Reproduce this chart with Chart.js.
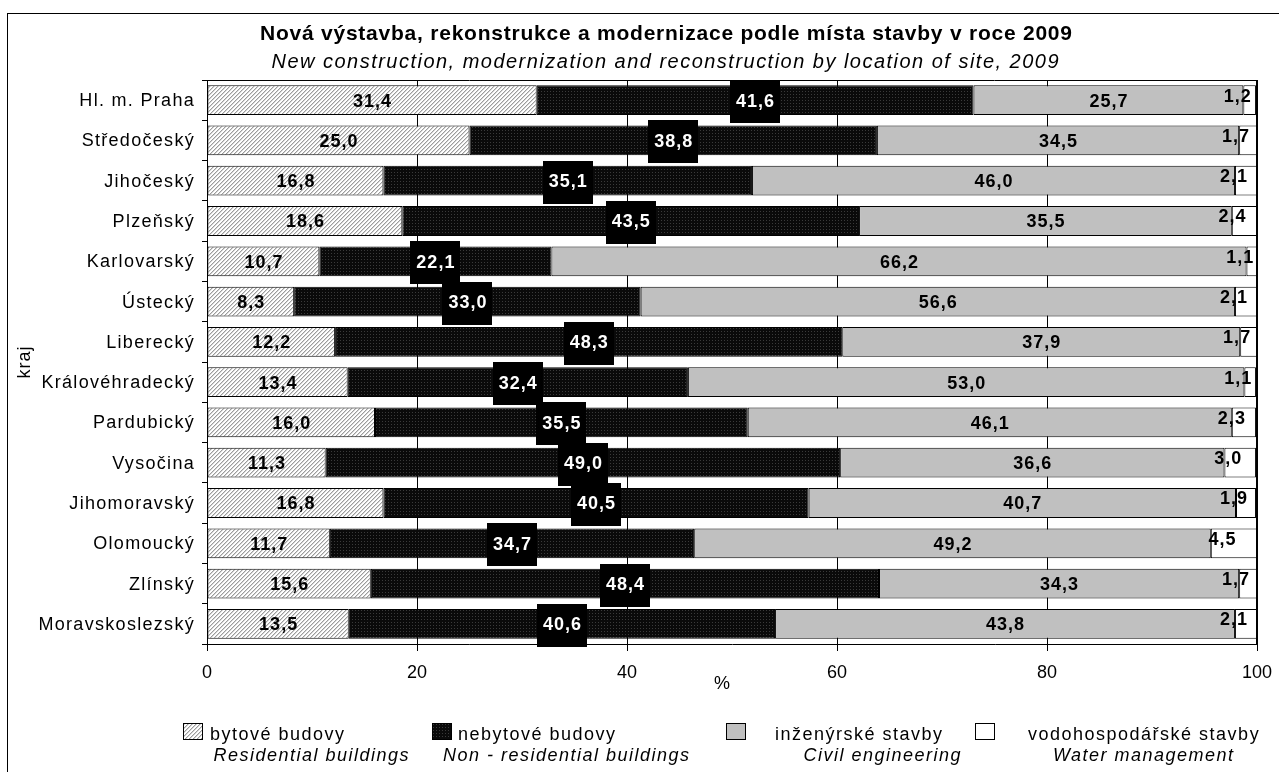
<!DOCTYPE html>
<html>
<head>
<meta charset="utf-8">
<script src="https://cdn.jsdelivr.net/npm/chart.js@4.4.1/dist/chart.umd.min.js"></script>
<style>
html,body{margin:0;padding:0;background:#fff;}
#wrap{position:relative;width:1279px;height:772px;}
canvas{display:block;}
</style>
</head>
<body>
<div id="wrap"><canvas id="c" width="1279" height="772"></canvas></div>
<script>
const categories = ["Hl. m. Praha","Středočeský","Jihočeský","Plzeňský","Karlovarský","Ústecký","Liberecký","Královéhradecký","Pardubický","Vysočina","Jihomoravský","Olomoucký","Zlínský","Moravskoslezský"];
const bytove      = [31.4, 25.0, 16.8, 18.6, 10.7,  8.3, 12.2, 13.4, 16.0, 11.3, 16.8, 11.7, 15.6, 13.5];
const nebytove    = [41.6, 38.8, 35.1, 43.5, 22.1, 33.0, 48.3, 32.4, 35.5, 49.0, 40.5, 34.7, 48.4, 40.6];
const inzenyrske  = [25.7, 34.5, 46.0, 35.5, 66.2, 56.6, 37.9, 53.0, 46.1, 36.6, 40.7, 49.2, 34.3, 43.8];
const vodohosp    = [ 1.2,  1.7,  2.1,  2.4,  1.1,  2.1,  1.7,  1.1,  2.3,  3.0,  1.9,  4.5,  1.7,  2.1];
const seriesCz = ["bytové budovy","nebytové budovy","inženýrské stavby","vodohospodářské stavby"];
const seriesEn = ["Residential buildings","Non - residential buildings","Civil engineering","Water management"];
const xTicks = [0, 20, 40, 60, 80, 100];
const titleCz = "Nová výstavba, rekonstrukce a modernizace podle místa stavby v roce 2009";
const titleEn = "New construction, modernization and reconstruction by location of site, 2009";
const yTitle = "kraj";
const xTitle = "%";

const FONT = "'Liberation Sans', Arial, sans-serif";

function makePattern(kind){
  const p = document.createElement('canvas');
  const ctx = p.getContext('2d');
  if(kind === 'hatch'){
    p.width = 4; p.height = 4;
    ctx.fillStyle = '#ffffff'; ctx.fillRect(0,0,4,4);
    ctx.fillStyle = '#9c9c9c';
    for(let i=0;i<4;i++){ ctx.fillRect(i, 3-i, 1, 1); }
    ctx.fillStyle = '#d6d6d6';
    for(let i=0;i<4;i++){ ctx.fillRect((i+1)%4, 3-i, 1, 1); }
  } else {
    p.width = 3; p.height = 3;
    ctx.fillStyle = '#0a0a0a'; ctx.fillRect(0,0,3,3);
    ctx.fillStyle = '#3a3a3a'; ctx.fillRect(1,1,1,1);
  }
  return document.getElementById('c').getContext('2d').createPattern(p,'repeat');
}
const hatch = makePattern('hatch');
const dots = makePattern('dots');
const fills = [hatch, dots, '#c0c0c0', '#ffffff'];

const fmt = v => v.toFixed(1).replace('.', ',');

function spaced(ctx, text, x, y, spacing){
  if('letterSpacing' in ctx){ ctx.letterSpacing = spacing + 'px'; ctx.fillText(text, x, y); ctx.letterSpacing = '0px'; }
  else ctx.fillText(text, x, y);
}
function fitCentered(ctx, text, cx, y, width){
  ctx.textAlign = 'left';
  if('letterSpacing' in ctx) ctx.letterSpacing = '0px';
  const w = ctx.measureText(text).width;
  const sp = Math.max(0, (width - w) / (text.length - 1));
  const x = cx - width / 2;
  spaced(ctx, text, x, y, sp);
}

const decoPlugin = {
  id: 'deco',
  beforeDraw(chart){
    const ctx = chart.ctx;
    ctx.save();
    ctx.fillStyle = '#fff';
    ctx.fillRect(0,0,chart.width,chart.height);
    ctx.strokeStyle = '#000'; ctx.lineWidth = 1;
    ctx.strokeRect(7.5, 13.5, 1300, 800);
    ctx.restore();
  },
  afterDatasetsDraw(chart){
    const ctx = chart.ctx;
    const a = chart.chartArea;
    ctx.save();
    ctx.strokeStyle = '#000'; ctx.lineWidth = 1;
    ctx.beginPath(); ctx.moveTo(a.left, Math.round(a.top)+0.5); ctx.lineTo(a.right, Math.round(a.top)+0.5); ctx.stroke();
    ctx.beginPath(); ctx.moveTo(Math.round(a.right)-0.5, a.top); ctx.lineTo(Math.round(a.right)-0.5, a.bottom); ctx.stroke();
    // category labels
    const ys = chart.scales.y;
    ctx.fillStyle = '#000';
    ctx.font = "18px " + FONT;
    ctx.textBaseline = 'middle';
    ctx.textAlign = 'right';
    categories.forEach((c, i) => {
      spaced(ctx, c, 195, ys.getPixelForValue(i) + 1, 1.3);
    });
    // data labels
    ctx.font = "bold 18px " + FONT;
    ctx.textBaseline = 'middle';
    ctx.textAlign = 'center';
    chart.data.datasets.forEach((ds, di) => {
      const meta = chart.getDatasetMeta(di);
      meta.data.forEach((el, i) => {
        const v = ds.data[i];
        const cx = (el.x + el.base) / 2;
        const cy = el.y;
        const t = fmt(v);
        if(di === 1){
          ctx.fillStyle = '#000';
          ctx.fillRect(Math.round(cx - 25), Math.round(cy - 20), 50, 43);
          ctx.fillStyle = '#fff';
          spaced(ctx, t, cx + 0.5, cy + 1.5, 1);
        } else if(di === 3){
          ctx.fillStyle = '#000';
          spaced(ctx, t, cx - 12, cy - 3.5, 1);
        } else {
          ctx.fillStyle = '#000';
          spaced(ctx, t, cx + 0.5, cy + 1.5, 1);
        }
      });
    });
    ctx.restore();
  },
  afterDraw(chart){
    const ctx = chart.ctx;
    ctx.save();
    ctx.fillStyle = '#000';
    ctx.textBaseline = 'alphabetic';
    ctx.font = "bold 21px " + FONT;
    fitCentered(ctx, titleCz, 666, 40, 812);
    ctx.font = "italic 20px " + FONT;
    fitCentered(ctx, titleEn, 665, 68, 787);
    // axis titles
    ctx.textAlign = 'center'; ctx.textBaseline = 'middle';
    ctx.font = "18px " + FONT;
    ctx.fillText(xTitle, 722, 684);
    ctx.save();
    ctx.translate(25, 362);
    ctx.rotate(-Math.PI/2);
    spaced(ctx, yTitle, 0, 0, 1);
    ctx.restore();
    // legend
    const items = [
      {bx:183, tx:210, ex:311},
      {bx:432, tx:458, ex:566},
      {bx:726, tx:775, ex:882},
      {bx:975, tx:1028, ex:1143}
    ];
    ctx.textBaseline = 'alphabetic';
    items.forEach((it, k) => {
      ctx.fillStyle = fills[k];
      ctx.fillRect(it.bx, 723, 20, 17);
      ctx.strokeStyle = '#000'; ctx.lineWidth = 1;
      ctx.strokeRect(it.bx + 0.5, 723.5, 19, 16);
      ctx.fillStyle = '#000';
      ctx.textAlign = 'left';
      ctx.font = "18px " + FONT;
      spaced(ctx, seriesCz[k], it.tx, 740, 1.5);
      ctx.font = "italic 18px " + FONT;
      ctx.textAlign = 'left';
      if('letterSpacing' in ctx) ctx.letterSpacing = '0px';
      const w = ctx.measureText(seriesEn[k]).width + 1.5 * (seriesEn[k].length - 1);
      spaced(ctx, seriesEn[k], it.ex - w / 2, 761, 1.5);
    });
    ctx.restore();
  }
};

const datasets = [bytove, nebytove, inzenyrske, vodohosp].map((d, k) => ({
  label: seriesCz[k],
  data: d,
  backgroundColor: fills[k],
  borderColor: '#000',
  borderWidth: 1,
  borderSkipped: false,
  barPercentage: 0.74,
  categoryPercentage: 1.0
}));

new Chart(document.getElementById('c'), {
  type: 'bar',
  data: { labels: categories, datasets },
  options: {
    indexAxis: 'y',
    responsive: false,
    animation: false,
    devicePixelRatio: 1,
    layout: { padding: { top: 80, left: 0, right: 22, bottom: 0 } },
    plugins: { legend: { display: false }, tooltip: { enabled: false }, title: { display: false } },
    scales: {
      x: {
        stacked: true, min: 0, max: 100,
        afterBuildTicks(s){ s.ticks = xTicks.map(v => ({ value: v })); },
        ticks: { color: '#000', font: { family: FONT, size: 18 }, padding: 11, maxRotation: 0 },
        grid: { color: '#000', lineWidth: 1, tickLength: 7, drawOnChartArea: true },
        border: { color: '#000', width: 1 },
        afterFit(s){ s.height = 128; s.paddingLeft = 0; s.paddingRight = 0; }
      },
      y: {
        stacked: true,
        ticks: { display: false },
        grid: { offset: true, drawOnChartArea: false, tickLength: 5, color: '#000' },
        border: { color: '#000', width: 1 },
        afterFit(s){ s.width = 207; s.paddingTop = 0; s.paddingBottom = 0; }
      }
    }
  },
  plugins: [decoPlugin]
});
</script>
</body>
</html>
